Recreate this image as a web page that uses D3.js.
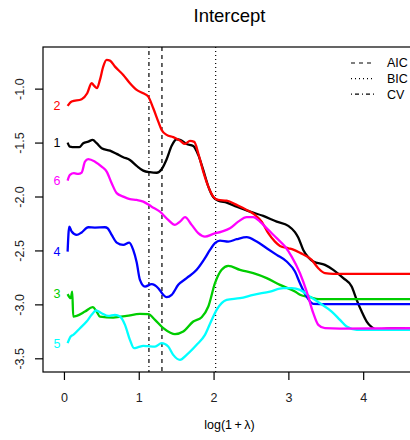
<!DOCTYPE html>
<html>
<head>
<script src="https://d3js.org/d3.v7.min.js"></script>
<style>
  body { margin: 0; background: white; }
  svg { font-family: "Liberation Sans", Arial, Helvetica, sans-serif; }
</style>
</head>
<body>
<svg id="chart" width="410" height="440"></svg>
<script>
// series labels and colours (R palette 1..6)
const labels = ["1", "2", "3", "4", "5", "6"];
const colors = ["#000000", "#FF0000", "#00CD00", "#0000FF", "#00FFFF", "#FF00FF"];

// series 1 (black)
const x1 = [0.049,0.080,0.147,0.205,0.258,0.325,0.384,0.437,0.504,0.615,0.705,0.793,0.882,0.972,1.060,1.150,1.239,1.306,1.373,1.440,1.507,1.551,1.640,1.729,1.795,1.862,1.930,1.996,2.063,2.175,2.309,2.487,2.664,2.844,2.999,3.088,3.132,3.199,3.266,3.333,3.489,3.600,3.734,3.846,3.913,3.980,4.047,4.114,4.180,4.314,4.710];
const y1 = [-1.500,-1.538,-1.543,-1.543,-1.506,-1.491,-1.475,-1.506,-1.552,-1.575,-1.605,-1.636,-1.661,-1.716,-1.760,-1.775,-1.780,-1.747,-1.654,-1.530,-1.469,-1.475,-1.513,-1.531,-1.614,-1.753,-1.908,-2.006,-2.038,-2.057,-2.094,-2.140,-2.180,-2.233,-2.272,-2.330,-2.380,-2.495,-2.563,-2.603,-2.634,-2.680,-2.757,-2.835,-2.958,-3.067,-3.159,-3.211,-3.236,-3.224,-3.221];

// series 2 (red)
const x2 = [0.049,0.103,0.237,0.311,0.370,0.405,0.441,0.481,0.525,0.571,0.615,0.682,0.793,0.882,0.972,1.060,1.127,1.194,1.261,1.306,1.373,1.461,1.551,1.618,1.684,1.742,1.795,1.862,1.930,1.996,2.063,2.175,2.309,2.443,2.553,2.643,2.731,2.821,2.888,2.999,3.066,3.155,3.311,3.400,3.489,3.600,4.710];
const y2 = [-1.160,-1.120,-1.098,-1.043,-0.950,-0.975,-0.996,-0.919,-0.796,-0.734,-0.740,-0.796,-0.873,-0.950,-1.012,-1.043,-1.074,-1.182,-1.306,-1.383,-1.429,-1.450,-1.482,-1.513,-1.485,-1.494,-1.599,-1.769,-1.908,-2.001,-2.032,-2.038,-2.078,-2.124,-2.171,-2.233,-2.340,-2.418,-2.458,-2.480,-2.492,-2.522,-2.588,-2.665,-2.711,-2.717,-2.717];

// series 3 (green)
const x3 = [0.049,0.090,0.111,0.124,0.170,0.281,0.384,0.437,0.481,0.659,0.838,1.016,1.127,1.217,1.328,1.417,1.484,1.595,1.729,1.841,1.930,2.019,2.108,2.197,2.353,2.531,2.710,2.888,3.088,3.155,3.289,3.400,4.710];
const y3 = [-2.905,-2.943,-2.881,-3.113,-3.107,-3.067,-3.026,-3.067,-3.113,-3.122,-3.107,-3.088,-3.091,-3.144,-3.221,-3.261,-3.276,-3.252,-3.159,-3.119,-3.020,-2.804,-2.680,-2.643,-2.680,-2.711,-2.757,-2.819,-2.881,-2.910,-2.933,-2.952,-2.952];

// series 4 (blue)
const x4 = [0.049,0.071,0.103,0.170,0.237,0.325,0.414,0.548,0.584,0.638,0.705,0.793,0.873,0.926,0.972,1.016,1.083,1.172,1.261,1.328,1.373,1.440,1.528,1.640,1.774,1.885,1.952,2.019,2.086,2.197,2.309,2.443,2.576,2.710,2.844,2.977,3.088,3.155,3.245,3.333,3.512,4.710];
const y4 = [-2.511,-2.279,-2.325,-2.356,-2.333,-2.285,-2.288,-2.285,-2.294,-2.356,-2.427,-2.449,-2.427,-2.495,-2.610,-2.773,-2.835,-2.813,-2.850,-2.912,-2.933,-2.912,-2.819,-2.757,-2.680,-2.572,-2.495,-2.433,-2.409,-2.418,-2.396,-2.377,-2.418,-2.479,-2.541,-2.603,-2.696,-2.804,-2.928,-2.995,-2.998,-2.998];

// series 5 (cyan)
const x5 = [0.049,0.090,0.124,0.214,0.303,0.370,0.428,0.504,0.592,0.682,0.749,0.816,0.882,0.936,0.993,1.060,1.127,1.217,1.306,1.394,1.461,1.551,1.640,1.774,1.885,1.975,2.041,2.175,2.353,2.531,2.754,2.932,3.044,3.155,3.289,3.422,3.579,3.690,3.779,3.913,4.710];
const y5 = [-3.360,-3.298,-3.283,-3.221,-3.159,-3.097,-3.057,-3.082,-3.107,-3.097,-3.113,-3.190,-3.329,-3.406,-3.397,-3.385,-3.388,-3.391,-3.360,-3.391,-3.468,-3.514,-3.468,-3.375,-3.283,-3.144,-3.051,-2.958,-2.943,-2.912,-2.881,-2.850,-2.850,-2.866,-2.928,-2.989,-3.067,-3.144,-3.206,-3.236,-3.236];

// series 6 (magenta)
const x6 = [0.049,0.080,0.134,0.191,0.237,0.281,0.325,0.414,0.504,0.571,0.638,0.705,0.793,0.882,0.972,1.060,1.172,1.283,1.394,1.484,1.551,1.618,1.707,1.795,1.885,1.996,2.108,2.219,2.330,2.443,2.531,2.620,2.731,2.844,2.955,3.044,3.155,3.245,3.333,3.400,3.489,3.690,4.710];
const y6 = [-1.853,-1.800,-1.784,-1.791,-1.778,-1.677,-1.654,-1.677,-1.723,-1.769,-1.877,-1.969,-2.001,-2.025,-2.032,-2.047,-2.094,-2.140,-2.217,-2.263,-2.233,-2.192,-2.263,-2.340,-2.372,-2.347,-2.325,-2.294,-2.233,-2.192,-2.192,-2.233,-2.310,-2.386,-2.464,-2.557,-2.711,-2.881,-3.082,-3.190,-3.221,-3.224,-3.221];

// selected lambdas
const vlineNames = ["AIC", "BIC", "CV"];
const vlineX = [1.31, 2.028, 1.136];
const vlineDash = ["4,4", "1,3", "1,3,4,3"];

const xTicks = [0, 1, 2, 3, 4];
const yTicks = [-1.0, -1.5, -2.0, -2.5, -3.0, -3.5];
const labelX = -0.094;

const xs = [x1, x2, x3, x4, x5, x6];
const ys = [y1, y2, y3, y4, y5, y6];
const series = labels.map((l, i) => ({
  label: l, color: colors[i],
  pts: xs[i].map((x, j) => [x, ys[i][j]])
}));

const svg = d3.select("#chart");
const pLeft = 43, pRight = 416, pTop = 47, pBottom = 372;

const x = d3.scaleLinear([-0.28, 4.706], [pLeft, pRight]);
const y = d3.scaleLinear([-3.627, -0.614], [pBottom, pTop]);

svg.append("clipPath").attr("id", "clip")
  .append("rect").attr("x", pLeft).attr("y", pTop)
  .attr("width", pRight - pLeft).attr("height", pBottom - pTop);

// title
svg.append("text").attr("x", (pLeft + pRight) / 2).attr("y", 21.5)
  .attr("text-anchor", "middle").attr("font-size", 18.5).text("Intercept");

// vertical lines
svg.append("g").selectAll("line").data(vlineX).join("line")
  .attr("x1", d => x(d)).attr("x2", d => x(d))
  .attr("y1", pTop).attr("y2", pBottom)
  .attr("stroke", "black").attr("stroke-width", 1.2)
  .attr("stroke-dasharray", (d, i) => vlineDash[i]);

// curves
const line = d3.line().x(d => x(d[0])).y(d => y(d[1])).curve(d3.curveMonotoneX);
svg.append("g").attr("clip-path", "url(#clip)")
  .selectAll("path").data(series).join("path")
  .attr("d", d => line(d.pts))
  .attr("fill", "none").attr("stroke", d => d.color)
  .attr("stroke-width", 2.3).attr("stroke-linejoin", "round");

// curve labels
svg.append("g").selectAll("text").data(series).join("text")
  .attr("x", d => x(labelX)).attr("y", d => y(d.pts[0][1]))
  .attr("dy", "0.35em").attr("text-anchor", "middle")
  .attr("font-size", 12.5).attr("fill", d => d.color)
  .text(d => d.label);

// box
svg.append("rect").attr("x", pLeft).attr("y", pTop)
  .attr("width", pRight - pLeft).attr("height", pBottom - pTop)
  .attr("fill", "none").attr("stroke", "black").attr("stroke-width", 1.2);

// axes
const gx = svg.append("g").attr("transform", `translate(0,${pBottom})`)
  .call(d3.axisBottom(x).tickValues(xTicks).tickSize(8).tickPadding(13).tickFormat(d3.format("d")));
const gy = svg.append("g").attr("transform", `translate(${pLeft},0)`)
  .call(d3.axisLeft(y).tickValues(yTicks).tickSize(8).tickFormat(d => d.toFixed(1)));
[gx, gy].forEach(g => {
  g.select(".domain").remove();
  g.selectAll("line").attr("stroke-width", 1.2);
  g.selectAll("text").attr("font-size", 12.5).attr("font-family", "Liberation Sans, Arial, sans-serif").attr("fill", "#222");
});
gy.selectAll("text")
  .attr("x", null).attr("dy", "0.35em").attr("text-anchor", "middle")
  .attr("transform", "translate(-23,0) rotate(-90)");

// x axis title
svg.append("text").attr("x", (pLeft + pRight) / 2).attr("y", 428.5)
  .attr("text-anchor", "middle").attr("font-size", 12.5)
  .text("log(1\u2009+\u2009λ)");

// legend
const lg = svg.append("g").selectAll("g").data(vlineNames).join("g")
  .attr("transform", (d, i) => `translate(${pRight - 65},${pTop + 16 + i * 15.6})`);
lg.append("line").attr("x1", 0).attr("x2", 24)
  .attr("stroke", "black").attr("stroke-width", 1.2)
  .attr("stroke-dasharray", (d, i) => vlineDash[i]);
lg.append("text").attr("x", 36).attr("dy", "0.35em")
  .attr("font-size", 12.5).text(d => d);
</script>
</body>
</html>
